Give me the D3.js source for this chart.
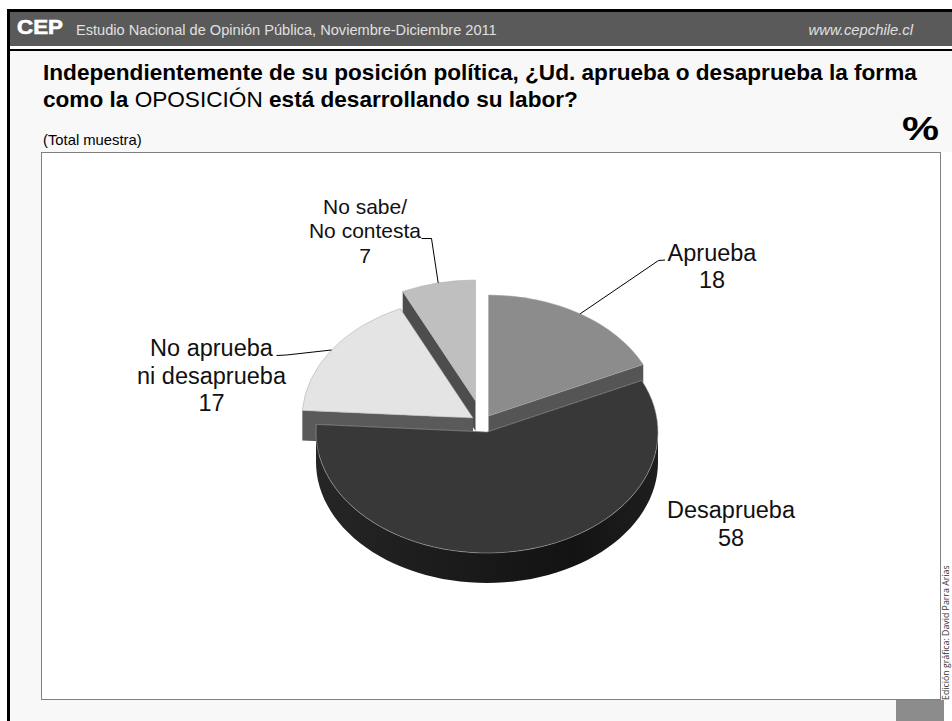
<!DOCTYPE html>
<html>
<head>
<meta charset="utf-8">
<script src="https://cdnjs.cloudflare.com/ajax/libs/d3/7.8.5/d3.min.js"></script>
<style>
  html, body { margin: 0; padding: 0; background: #fff; }
  svg { display: block; }
  text { font-family: "Liberation Sans", Arial, sans-serif; }
</style>
</head>
<body>
<div id="chart"></div>
<script>
const categories = ['Aprueba', 'Desaprueba', 'No aprueba ni desaprueba', 'No sabe/No contesta']
const values = [18, 58, 17, 7]
const labelLines = [['Aprueba'], ['Desaprueba'], ['No aprueba', 'ni desaprueba'], ['No sabe/', 'No contesta']]

const topColors = ['#8c8c8c', '#383838', '#e4e4e4', '#bfbfbf']
const wallColors = ['#555555', '#1a1a1a', '#5a5a5a', '#4d4d4d']

// where each wedge sits once pulled out of the pie, centre of pie first
const center = { x: 487, y: 432 }
const pullOut = [[1.5, -16], [0, 0], [-14, -14], [-11.5, -31]]
const rx = 171
const ry = 121
const depth = 30

// label block: anchor of the first line, leader elbow and end
const labelPos = [
  { x: 712, y: 260.5, size: 23.5, gap: 27.5, elbow: [658.5, 260.5], end: [665, 260] },
  { x: 731, y: 518, size: 23.5, gap: 28 },
  { x: 211.5, y: 356, size: 23.5, gap: 27.5, elbow: [286.5, 355], end: [276.5, 355.5] },
  { x: 365, y: 213.5, size: 21, gap: 24.5, elbow: [431.5, 238.5], end: [421.5, 238.5] }
]

const width = 952
const height = 721
const svg = d3.select('#chart').append('svg').attr('width', width).attr('height', height)

// page frame
svg.append('rect').attr('x', 8).attr('y', 46).attr('width', 944).attr('height', 675).attr('fill', '#f8f8f8')
svg.append('rect').attr('x', 8).attr('y', 11).attr('width', 944).attr('height', 35).attr('fill', '#5a5a5a')
svg.append('rect').attr('x', 7).attr('y', 9).attr('width', 945).attr('height', 3).attr('fill', '#000')
svg.append('rect').attr('x', 7).attr('y', 9).attr('width', 3).attr('height', 712).attr('fill', '#000')
svg.append('rect').attr('x', 10).attr('y', 49).attr('width', 942).attr('height', 2).attr('fill', '#000')
svg.append('rect').attr('x', 10).attr('y', 46).attr('width', 942).attr('height', 3).attr('fill', '#fff')

svg.append('text').attr('x', 17).attr('y', 34).attr('font-size', 19.5).attr('font-weight', 'bold')
  .attr('fill', '#fff').attr('stroke', '#fff').attr('stroke-width', 0.6)
  .attr('textLength', 46).attr('lengthAdjust', 'spacingAndGlyphs').text('CEP')
svg.append('text').attr('x', 76).attr('y', 35).attr('font-size', 14.6).attr('fill', '#e0e0e0')
  .text('Estudio Nacional de Opinión Pública, Noviembre-Diciembre 2011')
svg.append('text').attr('x', 913).attr('y', 35).attr('font-size', 14.8).attr('font-style', 'italic')
  .attr('text-anchor', 'end').attr('fill', '#e0e0e0').text('www.cepchile.cl')

svg.append('text').attr('x', 43).attr('y', 80).attr('font-size', 22.6).attr('font-weight', 'bold')
  .text('Independientemente de su posición política, ¿Ud. aprueba o desaprueba la forma')
const title2 = svg.append('text').attr('x', 43).attr('y', 107).attr('font-size', 22.6).attr('font-weight', 'bold')
title2.append('tspan').text('como la ')
title2.append('tspan').attr('font-weight', 'normal').text('OPOSICIÓN')
title2.append('tspan').text(' está desarrollando su labor?')

svg.append('text').attr('x', 43).attr('y', 145).attr('font-size', 14.8).text('(Total muestra)')
svg.append('text').attr('x', 902).attr('y', 140).attr('font-size', 33).attr('font-weight', 'bold')
  .attr('textLength', 37).attr('lengthAdjust', 'spacingAndGlyphs').text('%')

// chart box
svg.append('rect').attr('x', 41.5).attr('y', 152.5).attr('width', 899).attr('height', 547)
  .attr('fill', '#fff').attr('stroke', '#808080')
svg.append('rect').attr('x', 941).attr('y', 152).attr('width', 11).attr('height', 569).attr('fill', '#fff')
svg.append('rect').attr('x', 896).attr('y', 700).attr('width', 48).attr('height', 21).attr('fill', '#8c8c8c')
svg.append('text').attr('transform', 'translate(949,700) rotate(-90)').attr('font-size', 8.8)
  .attr('fill', '#333').style('font-family', '"Open Sans", sans-serif').text('Edición gráfica: David Parra Arias')

// pie: d3.arc draws a circle, the group squashes it into the tilted ellipse
const pie = d3.pie().sort(null).value(d => d)
const arcs = pie(values)
const arc = d3.arc().innerRadius(0).outerRadius(rx)

function rimPoint (angle, i, radius = rx) {
  return [
    center.x + pullOut[i][0] + Math.sin(angle) * radius,
    center.y + pullOut[i][1] - Math.cos(angle) * radius * ry / rx
  ]
}

const defs = svg.append('defs')
const wallGrad = defs.append('linearGradient').attr('id', 'wallGrad')
wallGrad.append('stop').attr('offset', '0%').attr('stop-color', '#262626')
wallGrad.append('stop').attr('offset', '35%').attr('stop-color', '#1c1c1c')
wallGrad.append('stop').attr('offset', '75%').attr('stop-color', '#131313')
wallGrad.append('stop').attr('offset', '100%').attr('stop-color', '#1e1e1e')

const pieG = svg.append('g')

// back to front, so the big wedge covers the walls of the others
const drawOrder = [3, 2, 0, 1]

const wallLine = d3.line()

drawOrder.forEach(i => {
  const a = arcs[i]
  const apex = rimPoint(0, i, 0)
  const g = pieG.append('g')

  // cut faces
  ;[a.startAngle, a.endAngle].forEach(angle => {
    const p = rimPoint(angle, i)
    g.append('path')
      .attr('d', wallLine([apex, p, [p[0], p[1] + depth], [apex[0], apex[1] + depth]]) + 'Z')
      .attr('fill', wallColors[i])
  })

  // outer wall, only the part that faces the viewer
  const from = Math.max(a.startAngle, Math.PI / 2)
  const to = Math.min(a.endAngle, Math.PI * 1.5)
  if (to > from) {
    const steps = d3.range(0, 61).map(k => from + (to - from) * k / 60)
    const upper = steps.map(t => rimPoint(t, i))
    const lower = steps.slice().reverse().map(t => {
      const p = rimPoint(t, i)
      return [p[0], p[1] + depth]
    })
    g.append('path').attr('d', wallLine(upper.concat(lower)) + 'Z').attr('fill', 'url(#wallGrad)')
  }

  g.append('path')
    .attr('transform', `translate(${apex[0]},${apex[1]}) scale(1,${ry / rx})`)
    .attr('d', arc(a))
    .attr('fill', topColors[i])
    .attr('stroke', i === 1 ? '#b0b0b0' : '#a8a8a8')
    .attr('stroke-width', 0.5)
    .attr('vector-effect', 'non-scaling-stroke')
})

// labels and leaders
labelLines.forEach((lines, i) => {
  const a = arcs[i]
  const pos = labelPos[i]
  if (pos.elbow) {
    const start = rimPoint((a.startAngle + a.endAngle) / 2, i)
    svg.append('path')
      .attr('d', d3.line()([start, pos.elbow, pos.end]))
      .attr('fill', 'none').attr('stroke', '#000').attr('stroke-width', 1)
  }
  const t = svg.append('text').attr('text-anchor', 'middle').attr('font-size', pos.size).attr('fill', '#111')
  lines.concat(String(values[i])).forEach((line, k) => {
    t.append('tspan').attr('x', pos.x).attr('y', pos.y + k * pos.gap).text(line)
  })
})
</script>
</body>
</html>
